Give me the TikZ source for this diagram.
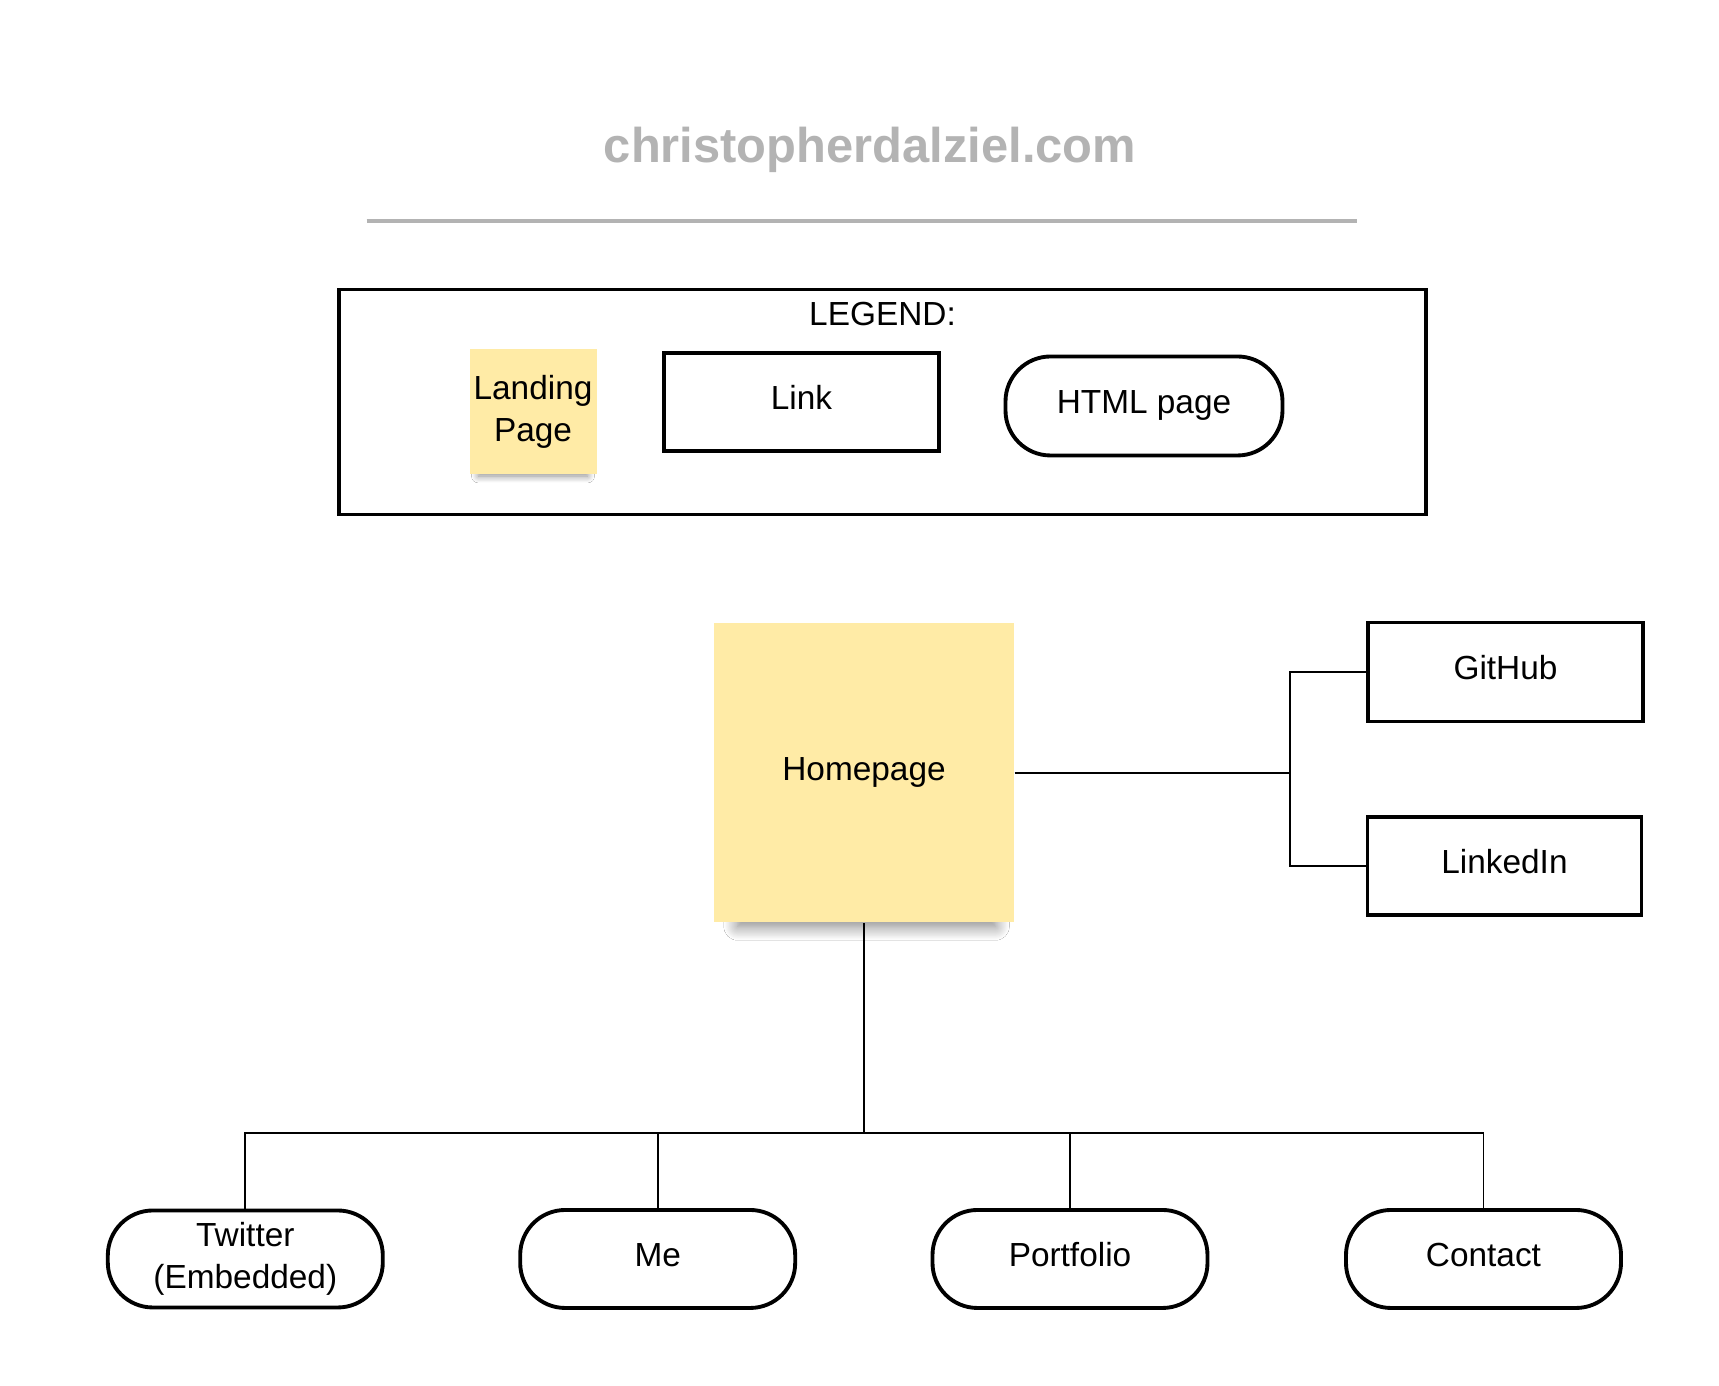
\documentclass[tikz,border=0pt]{standalone}
\usepackage{fontspec}
\setmainfont{Liberation Sans}
\usetikzlibrary{shadows.blur}

\definecolor{notey}{HTML}{FFEBA6}
\definecolor{titleg}{HTML}{B3B3B3}

\tikzset{
  txt/.style={font=\fontsize{9.5}{11.9}\selectfont, align=center, inner sep=0pt},
  oneline/.style={text height=0.72em, text depth=0.30em},
  sticky/.style={txt, fill=notey, draw=none},
  linkbox/.style={txt, oneline, draw, line width=1.1pt, minimum width=2.75cm, minimum height=0.98cm},
  pagebox/.style={linkbox, rounded corners=0.45cm},
  conn/.style={line width=0.55pt}
}

\begin{document}
\begin{tikzpicture}
  \useasboundingbox[fill=white] (0,0) rectangle (17.19,13.86);

  \node[font=\fontsize{13.9}{16}\selectfont\bfseries, text=titleg, anchor=base, inner sep=0pt] (title) at (8.70, 12.23) {christopherdalziel.com};
  \draw[titleg, line width=1.1pt] (3.665, 11.65) -- (13.565, 11.65);

  % legend
  \node[draw, line width=1.1pt, minimum width=10.87cm, minimum height=2.25cm, inner sep=0pt] (lgd) at (8.825, 9.84) {};
  \node[txt, anchor=base] (lgdtxt) at (8.825, 10.60) {LEGEND:};
  \node[sticky, minimum width=1.27cm, minimum height=1.25cm,
    blur shadow={shadow scale=0.86, shadow yshift=-0.12cm, shadow xshift=0cm, shadow blur radius=0.08cm, shadow blur steps=12, shadow opacity=45}]
    (land) at (5.33, 9.74) {Landing\\Page};
  \node[linkbox] (lnk) at (8.015, 9.84) {Link};
  \node[pagebox, minimum width=2.77cm, minimum height=0.99cm] (html) at (11.44, 9.80) {HTML page};

  \node[sticky, oneline, minimum width=3.0cm, minimum height=2.99cm,
    blur shadow={shadow scale=0.86, shadow yshift=-0.29cm, shadow xshift=0.03cm, shadow blur radius=0.16cm, shadow blur steps=16, shadow opacity=50}]
    (home) at (8.64, 6.13) {Homepage};

  \node[linkbox, minimum height=0.99cm] (git) at (15.055, 7.14) {GitHub};
  \node[linkbox, minimum width=2.74cm] (lin) at (15.045, 5.20) {LinkedIn};

  \node[pagebox, text height=, text depth=, minimum height=0.97cm] (tw) at (2.453, 1.27) {Twitter\\(Embedded)};
  \node[pagebox] (me) at (6.577, 1.27) {Me};
  \node[pagebox] (port) at (10.70, 1.27) {Portfolio};
  \node[pagebox] (cont) at (14.835, 1.27) {Contact};

  \coordinate (fork) at (12.90, 6.13);
  \coordinate (bus) at (8.64, 2.53);

  \draw[conn] (home.east) -- (fork);
  \draw[conn] (git.west) -| (fork) |- (lin.west);

  \draw[conn] (home.south) -- (bus);
  \draw[conn] (bus) -| (tw.north);
  \draw[conn] (bus) -| (me.north);
  \draw[conn] (bus) -| (port.north);
  \draw[conn] (bus) -| (cont.north);
\end{tikzpicture}
\end{document}
